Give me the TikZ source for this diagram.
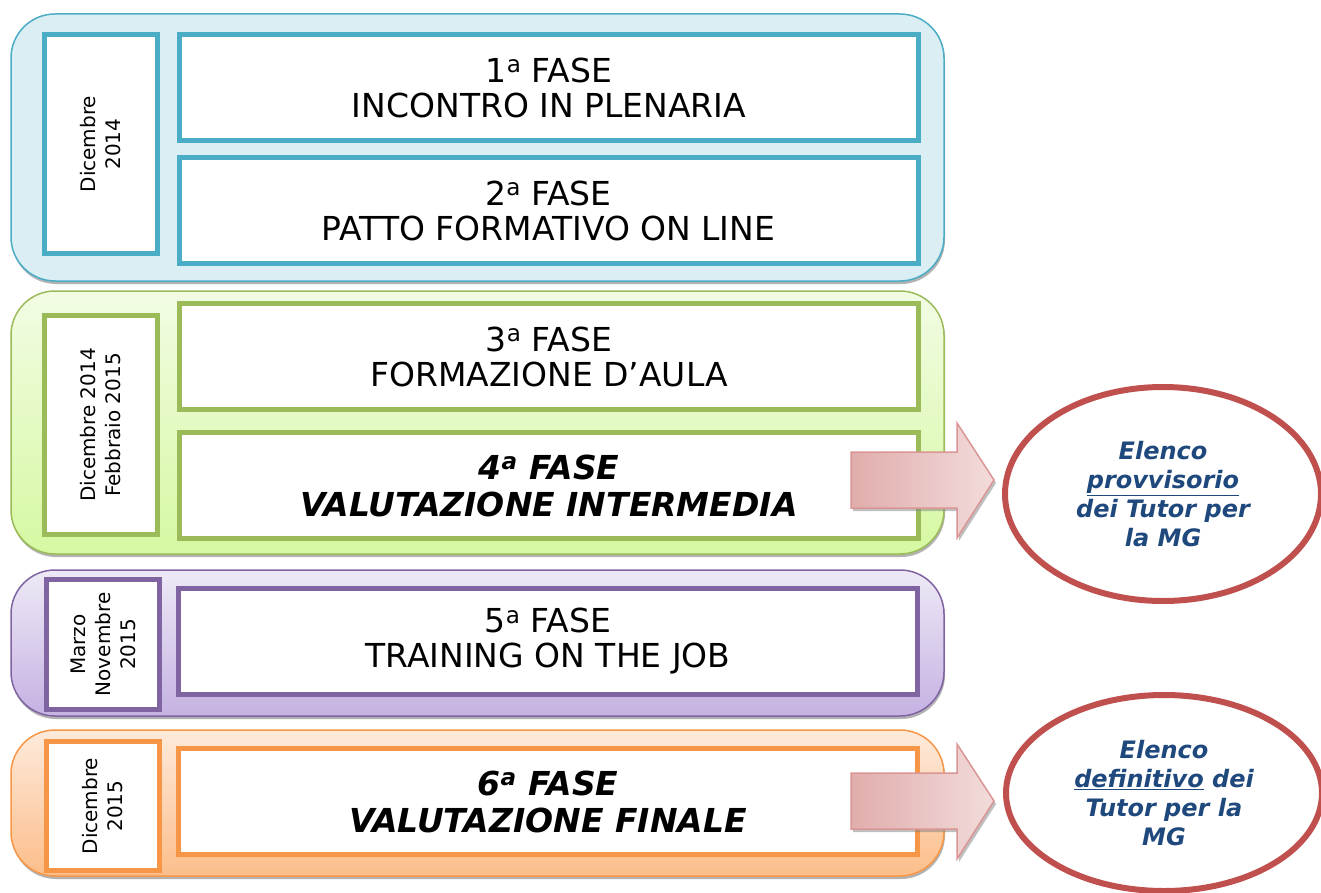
\documentclass[tikz,border=0pt]{standalone}
\usepackage{fontspec}
\setmainfont{DejaVu Sans}
\usetikzlibrary{shapes.geometric,shadows}

\definecolor{bluLine}{HTML}{4BACC6}
\definecolor{bluFill}{HTML}{DAEEF3}
\definecolor{verdeLine}{HTML}{9BBB59}
\definecolor{verdeTop}{HTML}{F2FCE4}
\definecolor{verdeBot}{HTML}{D6F8A2}
\definecolor{violaLine}{HTML}{8064A2}
\definecolor{violaTop}{HTML}{EEE9F6}
\definecolor{violaBot}{HTML}{C5B2E2}
\definecolor{aranLine}{HTML}{F79646}
\definecolor{aranTop}{HTML}{FDEADB}
\definecolor{aranBot}{HTML}{FCBE8A}
\definecolor{rossoLine}{HTML}{C0504D}
\definecolor{rosaLine}{HTML}{D99694}
\definecolor{rosaDark}{HTML}{E0ADAC}
\definecolor{rosaLight}{HTML}{F2DCDB}
\definecolor{testoBlu}{HTML}{1F497D}

\tikzset{
  gruppo/.style={draw=#1, line width=1.5pt, rounded corners=44pt,
    drop shadow={shadow xshift=1pt, shadow yshift=-3pt, fill=black!60}},
  fase/.style={draw=#1, line width=5pt, fill=white, minimum width=739pt, minimum height=106pt,
    align=center, font=\fontsize{33}{35}\selectfont},
  data/.style={draw=#1, line width=5pt, fill=white, rotate=90, minimum height=113pt,
    align=center, font=\fontsize{20}{25}\selectfont},
  freccia/.style={draw=rosaLine, line width=1.5pt, left color=rosaDark, right color=rosaLight,
    drop shadow={shadow xshift=2pt, shadow yshift=-3pt, fill=black!50}},
  elenco/.style={ellipse, draw=rossoLine, line width=6pt, fill=white, minimum width=316pt,
    align=center, text=testoBlu, font=\fontsize{24}{29}\selectfont\bfseries\itshape}
}

\begin{document}
\begin{tikzpicture}[x=1pt, y=-1pt]
        \useasboundingbox (0,0) rectangle (1321,893);

        % gruppi
        \draw [gruppo=bluLine, fill=bluFill] (11,14) rectangle (944,281);
        \draw [gruppo=verdeLine, top color=verdeTop, bottom color=verdeBot] (11,291) rectangle (944,554);
        \draw [gruppo=violaLine, top color=violaTop, bottom color=violaBot] (11,570) rectangle (944,716);
        \draw [gruppo=aranLine, top color=aranTop, bottom color=aranBot] (11,730) rectangle (944,876);

        % date
        \node [data=bluLine, minimum width=219pt] (d1) at (101,144) {Dicembre\\2014};
        \node [data=verdeLine, minimum width=219pt] (d2) at (101,425) {Dicembre 2014\\Febbraio 2015};
        \node [data=violaLine, minimum width=130pt] (d3) at (103,644.5) {Marzo\\Novembre\\2015};
        \node [data=aranLine, minimum width=129pt] (d4) at (103,806) {Dicembre\\2015};

        % fasi
        \node [fase=bluLine] (f1) at (549,87.5) {1\textsuperscript{a} FASE\\INCONTRO IN PLENARIA};
        \node [fase=bluLine] (f2) at (548.5,210.5) {2\textsuperscript{a} FASE\\PATTO FORMATIVO ON LINE};
        \node [fase=verdeLine] (f3) at (549,356.5) {3\textsuperscript{a} FASE\\FORMAZIONE D’AULA};
        \node [fase=verdeLine, font=\fontsize{33}{37}\selectfont\bfseries\itshape] (f4) at (549,485.5) {4\textsuperscript{a} FASE\\VALUTAZIONE INTERMEDIA};
        \node [fase=violaLine] (f5) at (548,641.5) {5\textsuperscript{a} FASE\\TRAINING ON THE JOB};
        \node [fase=aranLine, font=\fontsize{33}{37}\selectfont\bfseries\itshape] (f6) at (548,801.5) {6\textsuperscript{a} FASE\\VALUTAZIONE FINALE};

        % frecce
        \foreach \ya in {480,801}
            \draw [freccia] (851,{\ya-28}) -- (957,{\ya-28}) -- (957,{\ya-57}) -- (994,\ya)
                -- (957,{\ya+58}) -- (957,{\ya+28}) -- (851,{\ya+28}) -- cycle;

        % elenchi
        \node [elenco, minimum height=214pt] (e1) at (1163,494) {Elenco\\\underline{provvisorio}\\dei Tutor per\\la MG};
        \node [elenco, minimum height=196pt] (e2) at (1164,793) {Elenco\\\underline{definitivo} dei\\Tutor per la\\MG};
\end{tikzpicture}
\end{document}
